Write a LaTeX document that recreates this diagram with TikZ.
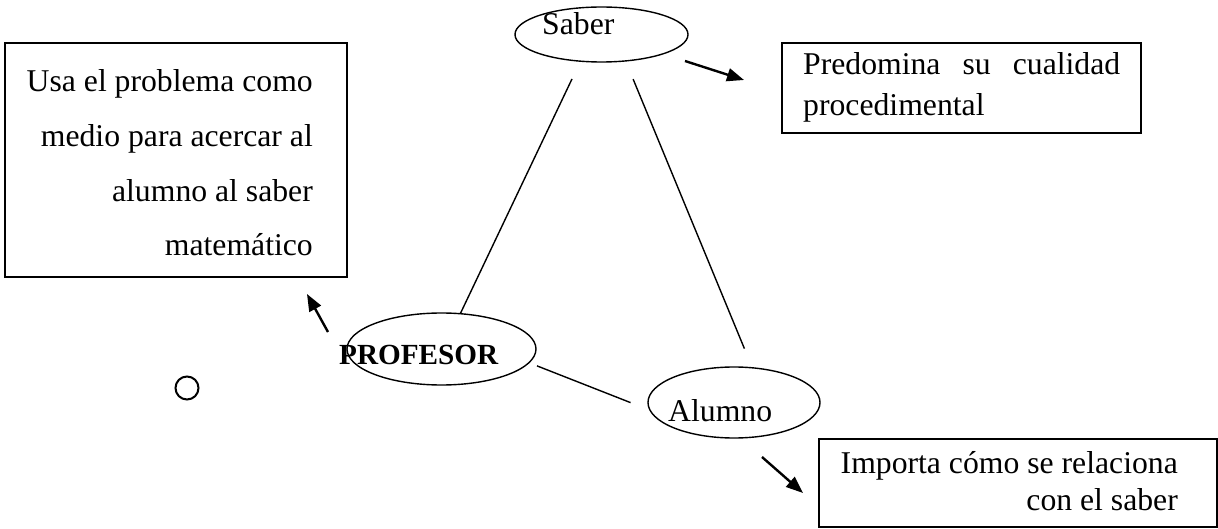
\documentclass[tikz,border=0pt]{standalone}
\usepackage{fontspec}
\setmainfont{Liberation Serif}
\usetikzlibrary{shapes.geometric,arrows.meta}
\tikzset{
  txt/.style={inner sep=0pt, font=\fontsize{31.7}{38}\selectfont},
  ell/.style={draw, ellipse, line width=1.4pt, inner sep=0pt},
  box/.style={draw, rectangle, line width=1.4pt, inner sep=0pt},
  link/.style={line width=1.4pt},
  arr/.style={line width=2.4pt, -{Triangle[length=17pt,width=13pt]}}
}
\begin{document}
\begin{tikzpicture}[x=1pt,y=-1pt]
\useasboundingbox (0,0) rectangle (1218,529);
% ellipses
\node[ell, minimum width=173pt, minimum height=55pt] (saber) at (601.5,34.5) {};
\node[ell, minimum width=189pt, minimum height=72pt] (prof) at (441.5,349) {};
\node[ell, minimum width=172pt, minimum height=71pt] (alumno) at (734,402.5) {};
% ellipse texts
\node[txt, anchor=base west] (tsaber) at (542,35) {Saber};
\node[txt, anchor=base west, font=\fontsize{29.2}{35}\selectfont\bfseries] (tprof) at (339,364) {PROFESOR};
\node[txt, anchor=base west] (talumno) at (668,421) {Alumno};
% boxes
\node[box, minimum width=342pt, minimum height=234pt] (lbox) at (176,160) {};
\node[box, minimum width=359pt, minimum height=90pt] (pbox) at (961.5,88) {};
\node[box, minimum width=398pt, minimum height=88pt] (ibox) at (1018,483) {};
% box texts
\node[txt, anchor=base east] (l1) at (313,92) {Usa el problema como};
\node[txt, anchor=base east] (l2) at (313,147) {medio para acercar al};
\node[txt, anchor=base east] (l3) at (313,202) {alumno al saber};
\node[txt, anchor=base east] (l4) at (313,256) {matemático};
\node[txt, anchor=base west] (p1) at (803,75) {\makebox[317pt][s]{Predomina\hfill su\hfill cualidad}};
\node[txt, anchor=base west] (p2) at (803,116) {procedimental};
\node[txt, anchor=base east] (i1) at (1178,473) {Importa cómo se relaciona};
\node[txt, anchor=base east] (i2) at (1178,510) {con el saber};
% triangle links
\draw[link, shorten <=19pt] (saber.232.7) -- (prof.62);
\draw[link, shorten <=19pt, shorten >=20pt] (saber.-48.5) -- (alumno.63);
\draw[link, shorten <=8pt, shorten >=20pt] (prof.-9.9) -- (alumno.185.6);
% arrows
\coordinate (a1s) at (685,61);
\coordinate (a1e) at (744,80);
\draw[arr] (a1s) -- (a1e);
\coordinate (a2s) at (762,457);
\coordinate (a2e) at (803,493);
\draw[arr] (a2s) -- (a2e);
\coordinate (a3s) at (328,332);
\coordinate (a3e) at (307,294);
\draw[arr] (a3s) -- (a3e);
% small circle
\node[draw, circle, line width=2pt, minimum size=23pt, inner sep=0pt] (circ) at (187,388) {};
\end{tikzpicture}
\end{document}
